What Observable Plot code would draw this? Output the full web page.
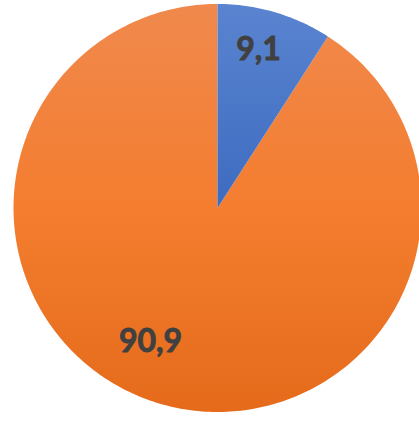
<!DOCTYPE html>
<html><head><meta charset="utf-8">
<script src="https://cdn.jsdelivr.net/npm/d3@7"></script>
<script src="https://cdn.jsdelivr.net/npm/@observablehq/plot@0.6"></script>
<style>html,body{margin:0;padding:0;background:#fff;overflow:hidden}</style>
</head><body><div id="chart"></div>
<script>
const categories = ["Part A", "Part B"];
const values = [9.1, 90.9];
const labels = ["9,1", "90,9"];

const rows = categories.map((c, i) => ({category: c, value: values[i], label: labels[i]}));
const arcs = d3.pie().sort(null).value(d => d.value)(rows);

const STEPS = 360;
function arcPoints(category, a0, a1, withCenter) {
  const pts = [];
  if (withCenter) pts.push({category, x: 0, y: 0});
  const n = Math.max(2, Math.ceil((a1 - a0) / (2 * Math.PI) * STEPS));
  for (let k = 0; k <= n; k++) {
    const t = a0 + (a1 - a0) * k / n;
    pts.push({category, x: Math.sin(t), y: Math.cos(t)});
  }
  if (withCenter) pts.push({category, x: 0, y: 0});
  return pts;
}
const slices = arcs.map(a => arcPoints(a.data.category, a.startAngle, a.endAngle, true));
const total = d3.sum(values);
const outline = arcPoints("all", 0, 2 * Math.PI * total / total, false);

const labelR = 0.8;
const labelPts = arcs.map(a => {
  const m = (a.startAngle + a.endAngle) / 2;
  return {category: a.data.category, label: a.data.label, x: labelR * Math.sin(m), y: labelR * Math.cos(m)};
});

const defs = () => {
  const d = d3.create("svg:defs");
  const gb = d.append("linearGradient").attr("id", "gBlue").attr("x1", 0).attr("y1", 0).attr("x2", 0).attr("y2", 1);
  gb.append("stop").attr("offset", "0%").attr("stop-color", "#5A84D0");
  gb.append("stop").attr("offset", "100%").attr("stop-color", "#3D6BC0");
  const go = d.append("linearGradient").attr("id", "gOrange").attr("x1", 0).attr("y1", 0).attr("x2", 0).attr("y2", 1);
  go.append("stop").attr("offset", "0%").attr("stop-color", "#F0894D");
  go.append("stop").attr("offset", "50%").attr("stop-color", "#F47D2F");
  go.append("stop").attr("offset", "100%").attr("stop-color", "#E56B1B");
  const f = d.append("filter").attr("id", "shadow").attr("x", "-10%").attr("y", "-10%").attr("width", "120%").attr("height", "120%");
  f.append("feGaussianBlur").attr("stdDeviation", 3.5);
  return d.node();
};

const W = 419, H = 423, R = 204, CX = 217, CY = 207.5;
const labelStyle = {x: "x", y: "y", text: "label", fill: "#404040", stroke: "#404040", strokeWidth: 0.9, fontSize: 32, fontWeight: "bold", fontFamily: "Lato"};
const chart = Plot.plot({
  width: W, height: H,
  marginLeft: CX - R, marginRight: 0,
  marginTop: CY - R, marginBottom: H - (CY + R),
  x: {domain: [-1, -1 + (W - (CX - R)) / R], axis: null},
  y: {domain: [-1, 1], axis: null},
  marks: [
    defs,
    Plot.line(outline, {x: "x", y: "y", fill: "#000", fillOpacity: 0.42, stroke: "none", dy: 3, ariaLabel: "shadow"}),
    Plot.line(slices[1], {x: "x", y: "y", fill: "url(#gOrange)", stroke: "none"}),
    Plot.line(slices[0], {x: "x", y: "y", fill: "url(#gBlue)", stroke: "none"}),
    Plot.text(labelPts.filter(d => d.category === categories[0]), {...labelStyle, dx: -5, dy: -2}),
    Plot.text(labelPts.filter(d => d.category === categories[1]), {...labelStyle, dx: -21, dy: -23})
  ]
});
d3.select(chart).selectAll('g[aria-label="shadow"]').attr("filter", "url(#shadow)");
document.getElementById("chart").appendChild(chart);
</script>
</body></html>
